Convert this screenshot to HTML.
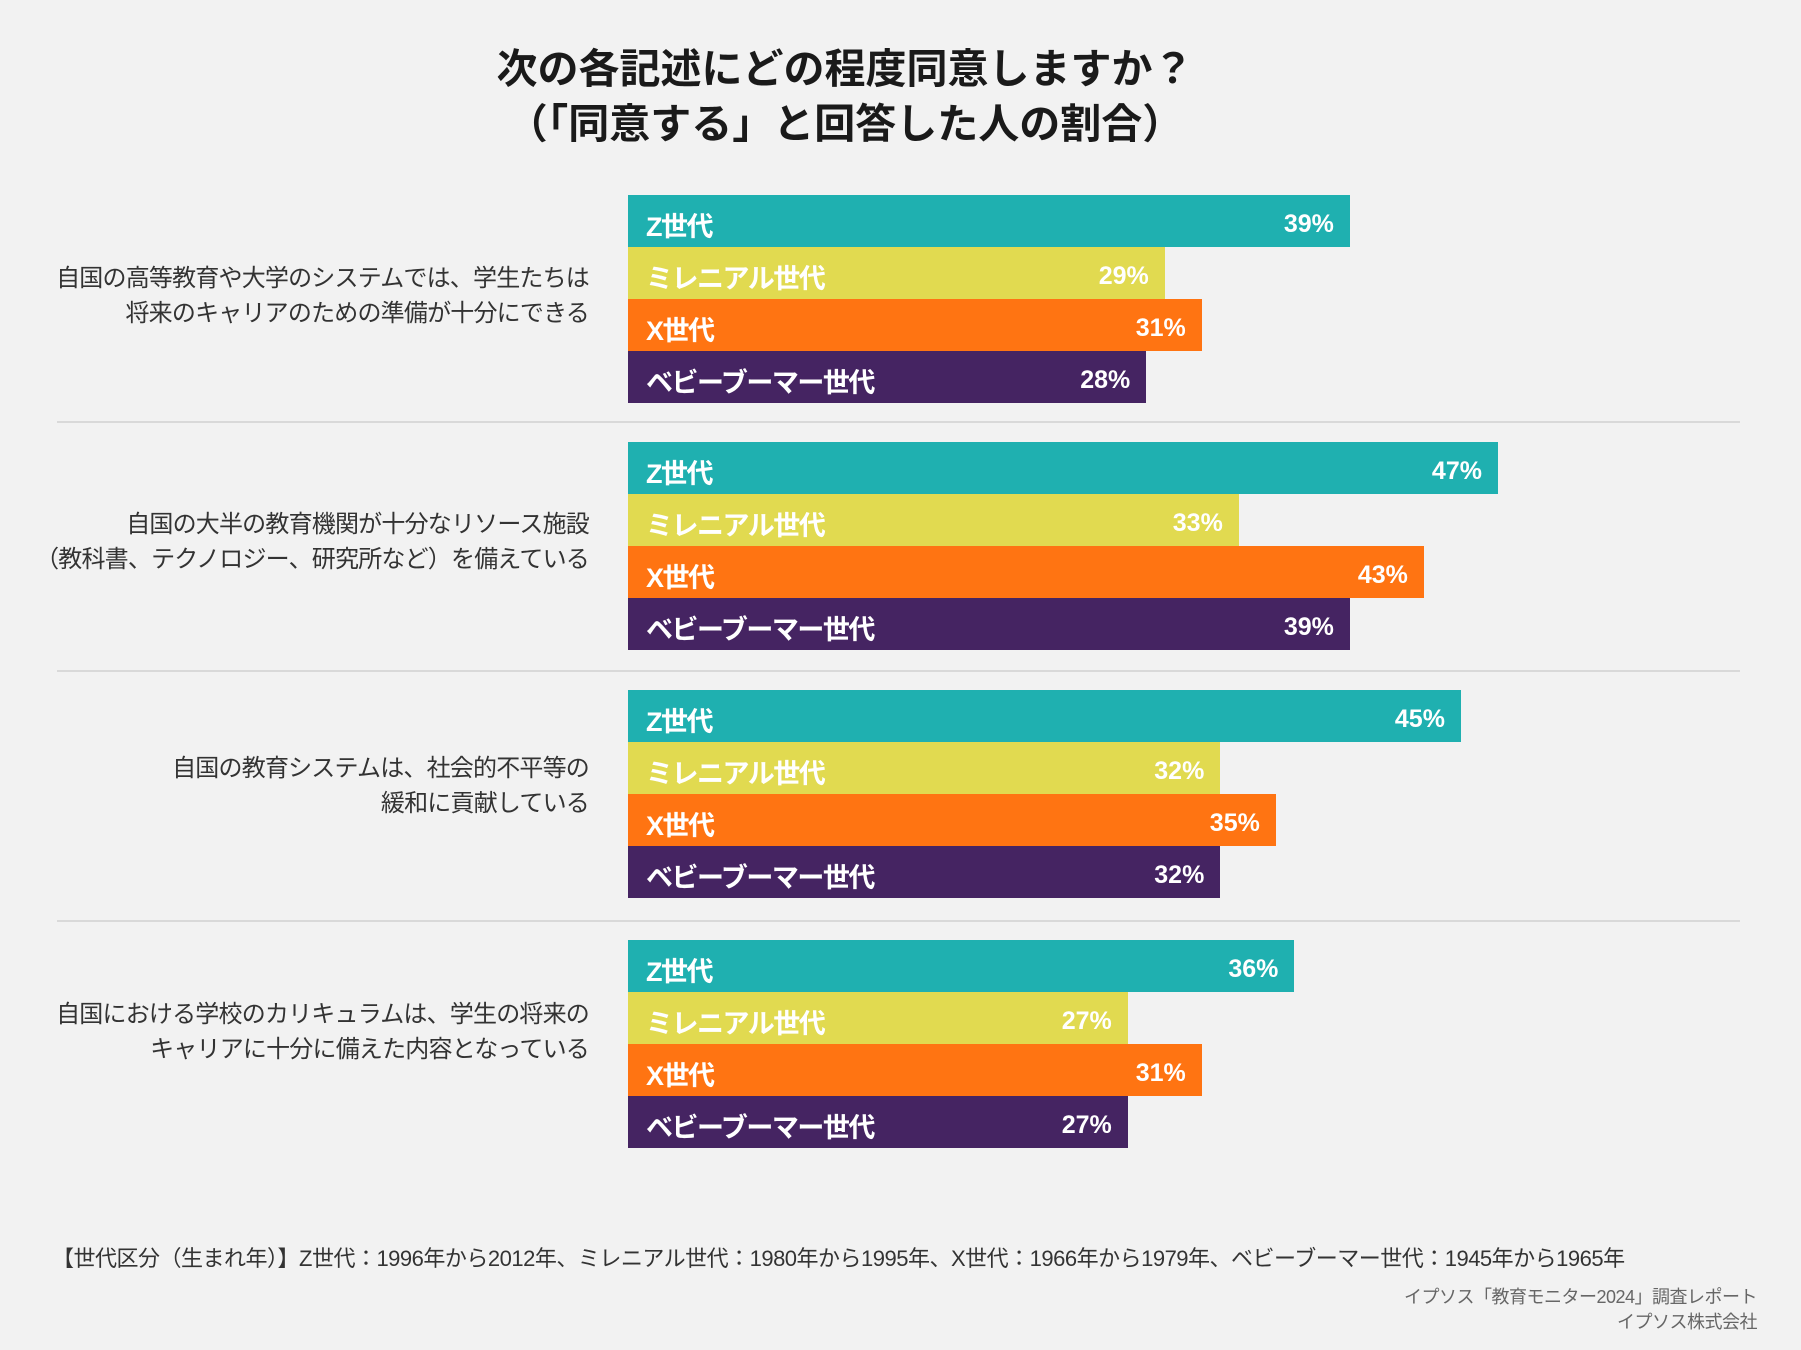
<!DOCTYPE html>
<html><head><meta charset="utf-8"><style>
body{margin:0;width:1801px;height:1350px;background:#f2f2f2;font-family:"Liberation Sans","Noto Sans CJK JP",sans-serif;position:relative;overflow:hidden}
.t{position:absolute;left:0;width:1690px;text-align:center;font-weight:bold;font-size:41px;color:#1a1a1a}
.q{position:absolute;right:1212px;text-align:right;font-size:24px;letter-spacing:-0.8px;color:#333;line-height:35px;white-space:nowrap}
.sep{position:absolute;left:57px;width:1683px;height:2px;background:#d9d9d9}
.bar{position:absolute;height:52px}
.bl{position:absolute;left:18px;top:10px;font-weight:bold;font-size:27px;letter-spacing:-1.5px;color:#fff;white-space:nowrap}
.bv{position:absolute;right:16px;top:15px;font-weight:bold;font-size:25px;color:#fff}
</style></head><body>
<div class="t" style="top:35px">次の各記述にどの程度同意しますか？</div>
<div class="t" style="top:90px">（「同意する」と回答した人の割合）</div>
<div class="q" style="top:261px">自国の高等教育や大学のシステムでは、学生たちは<br>将来のキャリアのための準備が十分にできる</div>
<div class="q" style="top:507px">自国の大半の教育機関が十分なリソース施設<br>（教科書、テクノロジー、研究所など）を備えている</div>
<div class="q" style="top:751px">自国の教育システムは、社会的不平等の<br>緩和に貢献している</div>
<div class="q" style="top:997px">自国における学校のカリキュラムは、学生の将来の<br>キャリアに十分に備えた内容となっている</div>
<div class="sep" style="top:421px"></div>
<div class="sep" style="top:670px"></div>
<div class="sep" style="top:920px"></div>
<div id="bars"></div>
<div style="position:absolute;left:52px;top:1241px;font-size:22px;letter-spacing:-0.5px;color:#333;white-space:nowrap">【世代区分（生まれ年）】Z世代：1996年から2012年、ミレニアル世代：1980年から1995年、X世代：1966年から1979年、ベビーブーマー世代：1945年から1965年</div>
<div style="position:absolute;right:44px;top:1285px;font-size:18px;letter-spacing:-0.5px;color:#666;text-align:right;line-height:25px">イプソス「教育モニター2024」調査レポート<br>イプソス株式会社</div>
<script>
const generations=["Z世代","ミレニアル世代","X世代","ベビーブーマー世代"];
const colors=["#1fb0b0","#e1da50","#ff7412","#452462"];
const q1=[39,29,31,28];
const q2=[47,33,43,39];
const q3=[45,32,35,32];
const q4=[36,27,31,27];
const series=[q1,q2,q3,q4];
const groupTops=[195,442,690,940];
const x0=628,pxPer=18.51,bh=52;
const host=document.getElementById('bars');
series.forEach((vals,g)=>{vals.forEach((v,i)=>{
 const b=document.createElement('div');b.className='bar';
 
 
 b.style.left=x0+'px';b.style.top=(groupTops[g]+i*bh)+'px';b.style.width=(v*pxPer)+'px';b.style.background=colors[i];
 const l=document.createElement('div');l.className='bl';l.textContent=generations[i];
 
 
 const t=document.createElement('div');t.className='bv';t.textContent=v+'%';
 
 
 b.appendChild(l);b.appendChild(t);host.appendChild(b);
});});
</script>
</body></html>
